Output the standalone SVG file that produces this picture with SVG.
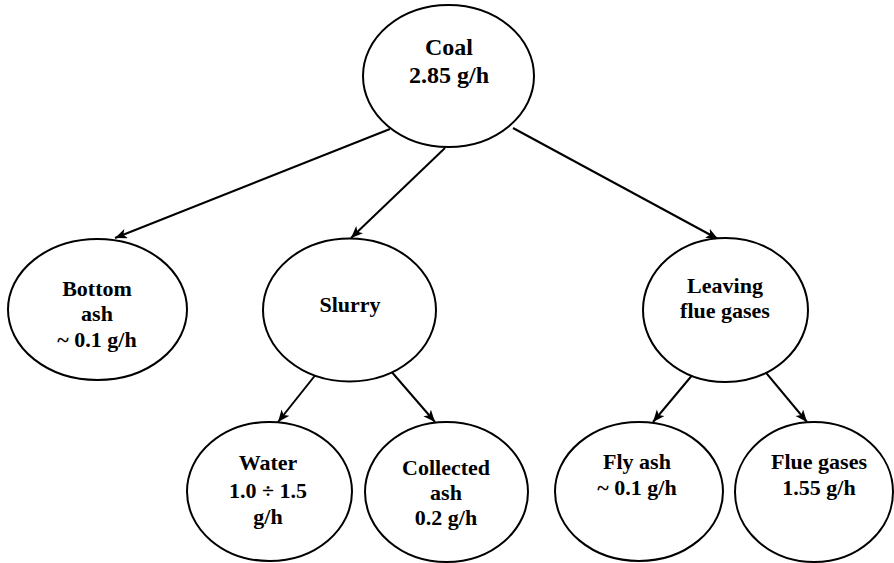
<svg xmlns="http://www.w3.org/2000/svg" width="894" height="563" viewBox="0 0 894 563">
<style>
.n{fill:#fff;stroke:#000;stroke-width:2}
.t{font-family:"Liberation Serif","Times New Roman",serif;font-weight:bold;font-size:22px;fill:#000;text-anchor:middle}
.big{font-size:24px}
.c{stroke:#000;stroke-width:2;fill:none;marker-end:url(#ah)}
</style>
<defs>
<marker id="ah" markerUnits="userSpaceOnUse" markerWidth="14" markerHeight="12" refX="12" refY="5" orient="auto">
<path d="M0,0 L12,5 L0,10 L3,5 z" fill="#000"/>
</marker>
</defs>
<g id="connectors">
<line class="c" x1="390" y1="129" x2="115" y2="238"/>
<line class="c" x1="445" y1="148" x2="351" y2="238"/>
<line class="c" x1="513" y1="128" x2="718" y2="239"/>
<line class="c" x1="317" y1="373" x2="278" y2="422"/>
<line class="c" x1="390" y1="370" x2="435" y2="422"/>
<line class="c" x1="694" y1="373" x2="653" y2="422"/>
<line class="c" x1="762" y1="368" x2="807" y2="422"/>
</g>
<g id="coal">
<ellipse class="n" cx="448.5" cy="76" rx="85.5" ry="71"/>
<text class="t big" x="449" y="55">Coal</text>
<text class="t big" x="449" y="83">2.85 g/h</text>
</g>
<g id="bottom-ash">
<ellipse class="n" cx="97.5" cy="309.5" rx="89.5" ry="70.5"/>
<text class="t" x="97" y="296">Bottom</text>
<text class="t" x="97" y="321">ash</text>
<text class="t" x="97" y="347">~ 0.1 g/h</text>
</g>
<g id="slurry">
<ellipse class="n" cx="349.5" cy="310" rx="86.5" ry="71.5"/>
<text class="t" x="350" y="312">Slurry</text>
</g>
<g id="leaving-flue-gases">
<ellipse class="n" cx="725.5" cy="310" rx="82.5" ry="72"/>
<text class="t" x="725" y="293">Leaving</text>
<text class="t" x="725" y="318">flue gases</text>
</g>
<g id="water">
<ellipse class="n" cx="269.5" cy="491.5" rx="82.5" ry="69.5"/>
<text class="t" x="268" y="470">Water</text>
<text class="t" x="268" y="498">1.0 ÷ 1.5</text>
<text class="t" x="268" y="524">g/h</text>
</g>
<g id="collected-ash">
<ellipse class="n" cx="446.5" cy="492" rx="81.5" ry="70"/>
<text class="t" x="446" y="475">Collected</text>
<text class="t" x="446" y="500">ash</text>
<text class="t" x="446" y="525">0.2 g/h</text>
</g>
<g id="fly-ash">
<ellipse class="n" cx="639" cy="491.5" rx="84" ry="69.5"/>
<text class="t" x="637" y="469">Fly ash</text>
<text class="t" x="637" y="495">~ 0.1 g/h</text>
</g>
<g id="flue-gases">
<ellipse class="n" cx="814" cy="492" rx="79" ry="70"/>
<text class="t" x="819" y="469">Flue gases</text>
<text class="t" x="819" y="495">1.55 g/h</text>
</g>
</svg>
